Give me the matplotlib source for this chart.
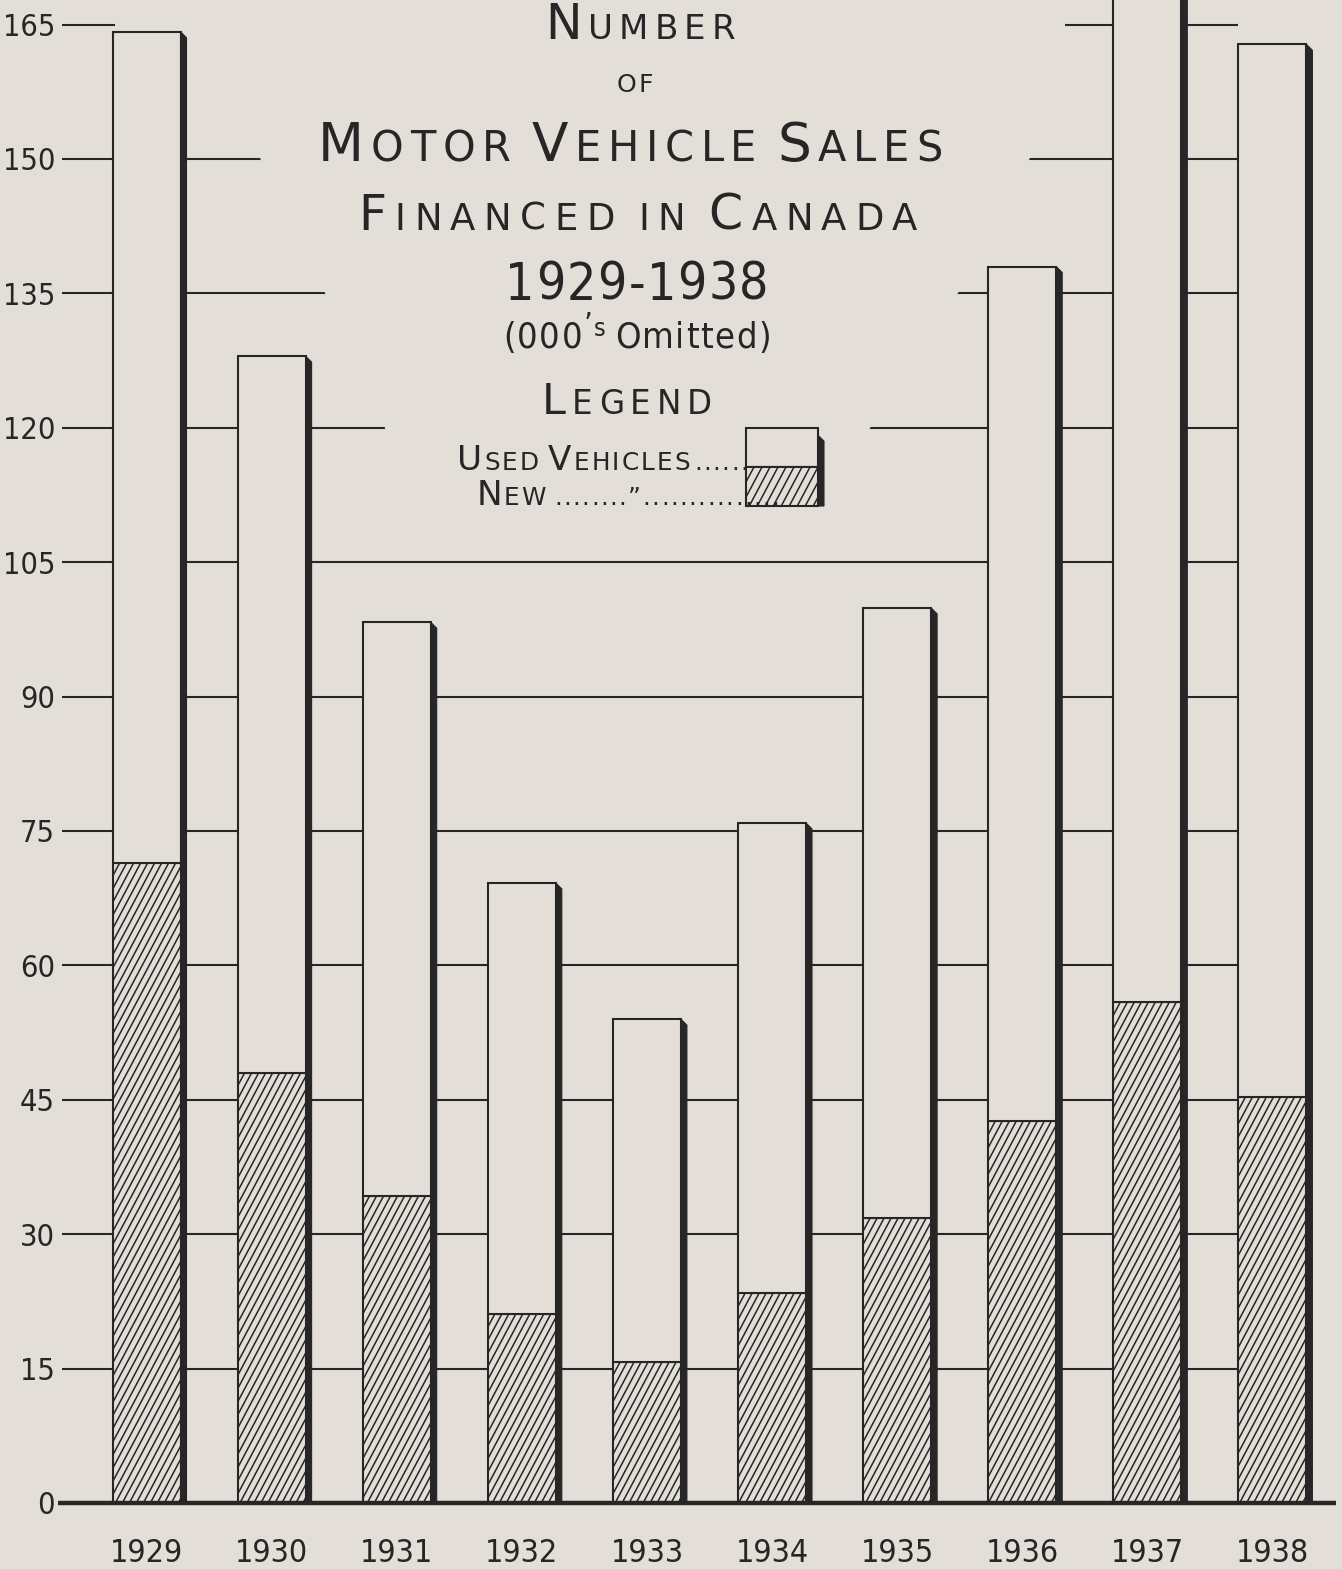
import matplotlib
matplotlib.use("Agg")
import matplotlib.pyplot as plt
from matplotlib.patches import Polygon, Rectangle
from matplotlib.collections import LineCollection
from matplotlib.transforms import IdentityTransform
from matplotlib import font_manager
from matplotlib.font_manager import FontProperties
import numpy as np

# values in thousands of vehicles
years = ["1929", "1930", "1931", "1932", "1933", "1934", "1935", "1936", "1937", "1938"]
new_vehicles = [71.4, 48.0, 34.3, 21.1, 15.7, 23.4, 31.8, 42.6, 55.9, 45.3]
used_vehicles = [92.8, 80.0, 64.0, 48.1, 38.3, 52.5, 68.1, 95.4, 119.1, 117.5]
y_ticks = [0, 15, 30, 45, 60, 75, 90, 105, 120, 135, 150, 165]

PAPER = "#e3dfd8"
INK = "#262626"

W, H = 1342, 1569
X0, PITCH = 146.5, 125.1     # pixel centre of first bar, bar pitch
Y0, UNIT = 1503.0, 8.96      # pixel row of zero, pixels per thousand


def narrow_font():
    # look for a condensed face; plain Liberation Sans otherwise
    for fam, stretch in [("Liberation Sans Narrow", "normal"), ("Liberation Sans Narrow", "condensed"),
                         ("DejaVu Sans", "condensed"), ("Roboto Condensed", "normal"),
                         ("Roboto", "condensed"), ("Open Sans", "condensed")]:
        try:
            path = font_manager.findfont(FontProperties(family=fam, stretch=stretch),
                                         fallback_to_default=False)
        except Exception:
            continue
        if "narrow" in path.lower() or "condensed" in path.lower():
            return FontProperties(fname=path), True
    return FontProperties(family="Liberation Sans"), False


NARROW, IS_NARROW = narrow_font()
TITLE = "DejaVu Sans"
tick_size = 22 if IS_NARROW else 20
year_size = 23 if IS_NARROW else 21


def px(x):
    return (x - X0) / PITCH


def py(y):
    return (Y0 - y) / UNIT


fig = plt.figure(figsize=(W / 100, H / 100), dpi=100, facecolor=PAPER)
ax = fig.add_axes([0, 0, 1, 1])
ax.set_facecolor(PAPER)
ax.set_xlim(px(0), px(W))
ax.set_ylim(py(H), py(0))
ax.axis("off")

x = np.arange(len(years))
new = np.array(new_vehicles)
used = np.array(used_vehicles)
total = new + used
bw = 68 / PITCH
sw, sh = 6 / PITCH, 6 / UNIT

# grid lines, broken around the title block
ax.hlines(y_ticks[1:], px(62), x[-1] - bw / 2, color=INK, lw=1.5, zorder=1)
mask = [(115, -5), (1065, -5), (1065, 30), (1030, 158), (958, 293), (870, 428),
        (860, 480), (392, 480), (385, 428), (325, 293), (260, 158), (115, 30)]
ax.add_patch(Polygon([(px(a), py(b)) for a, b in mask], closed=True,
                     facecolor=PAPER, edgecolor="none", zorder=1.5))

bars_new = ax.bar(x, new, width=bw, facecolor=PAPER, edgecolor=INK, lw=1.5, zorder=2)
ax.bar(x, used, bottom=new, width=bw, facecolor=PAPER, edgecolor=INK, lw=1.5, zorder=2)


def shadow(xr, top, bottom=0):
    ax.add_patch(Polygon([(xr, bottom), (xr + sw, bottom), (xr + sw, top - sh), (xr, top)],
                         closed=True, facecolor=INK, edgecolor=INK, lw=0.8, zorder=3))


def hatch(patch, x0, y0, x1, y1, step=7.0, angle=62):
    (a, b), (c, d) = ax.transData.transform([(x0, y0), (x1, y1)])
    k = 1 / np.tan(np.radians(angle))
    h = d - b
    starts = np.arange(a - k * h - step, c + step, step)
    segs = [[(s, b), (s + k * h, d)] for s in starts]
    lc = LineCollection(segs, transform=IdentityTransform(), colors=INK, lw=1.1, zorder=2.2)
    ax.add_collection(lc)
    lc.set_clip_path(patch)


for i in x:
    shadow(i + bw / 2, total[i])
    hatch(bars_new.patches[i], i - bw / 2, 0, i + bw / 2, new[i])

# baseline
ax.hlines(0, px(58), px(1336), color=INK, lw=3.2, zorder=4)

# tick labels
for t in y_ticks:
    ax.text(px(55), t - 11.5 / UNIT, str(t), ha="right", va="baseline",
            fontproperties=NARROW, fontsize=tick_size, color=INK)
for i, yr in enumerate(years):
    ax.text(i, py(1562), yr, ha="center", va="baseline", fontproperties=NARROW,
            fontsize=year_size, color=INK)

# legend swatch
lx0, lx1 = px(746), px(818)
ly_top, ly_mid, ly_bot = py(428), py(467), py(506)
ax.add_patch(Rectangle((lx0, ly_mid), lx1 - lx0, ly_top - ly_mid, facecolor=PAPER,
                       edgecolor=INK, lw=1.5, zorder=2))
sw_patch = Rectangle((lx0, ly_bot), lx1 - lx0, ly_mid - ly_bot, facecolor=PAPER,
                     edgecolor=INK, lw=1.5, zorder=2)
ax.add_patch(sw_patch)
shadow(lx1, ly_top - 0.8, ly_bot)
hatch(sw_patch, lx0, ly_bot, lx1, ly_mid, step=8.0)

# title block text, placed glyph by glyph to fit the original spans
renderer = fig.canvas.get_renderer()


def fit_line(parts, left, right, base, fprops=None):
    items = []
    for s, size, rise in parts:
        for ch in s:
            if ch == " ":
                items.append((None, size * 0.25, 0))
                continue
            if fprops is None:
                t = fig.text(0, 0, ch, fontsize=size, family=TITLE, color=INK,
                             transform=IdentityTransform(), ha="left", va="baseline", zorder=5)
            else:
                t = fig.text(0, 0, ch, fontproperties=fprops, fontsize=size, color=INK,
                             transform=IdentityTransform(), ha="left", va="baseline", zorder=5)
            items.append((t, t.get_window_extent(renderer).width, rise))
    total_w = sum(w for _, w, _ in items)
    gap = (right - left - total_w) / max(len(items) - 1, 1)
    gap = max(gap, 1.5)
    pos = left
    for t, w, rise in items:
        if t is not None:
            t.set_position((pos, H - base + rise))
        pos += w + gap


def small_caps(text, big, small, grow=1.08):
    big, small = big * grow, small * grow
    parts = []
    for j, word in enumerate(text.split(" ")):
        if j:
            parts.append((" ", small, 0))
        if word[0].isupper():
            parts.append((word[0], big, 0))
            if len(word) > 1:
                parts.append((word[1:].upper(), small, 0))
        else:
            parts.append((word.upper(), small, 0))
    return parts


fit_line(small_caps("Number", 32.6, 22.7), 545, 735, 39)
fit_line(small_caps("of", 32.6, 15.8, 1.15), 617, 653, 92)
fit_line(small_caps("Motor Vehicle Sales", 35.5, 27.7), 318, 942, 161)
fit_line(small_caps("Financed in Canada", 32.6, 24.7), 358, 917, 230)
fit_line([("1929-1938", 37, 0)], 505, 765, 300, fprops=NARROW)
fit_line([("(000", 26, 0), ("\u2019", 22, 14), ("s", 18, 12), (" ", 26, 0), ("Omitted)", 26, 0)],
         503, 765, 348, fprops=NARROW)
fit_line(small_caps("Legend", 28.6, 21.7), 542, 712, 414)
fit_line(small_caps("Used Vehicles", 24.7, 17.8, 1.0), 457, 690, 470)
fit_line([("......", 17.8, 0)], 694, 742, 470)
fit_line(small_caps("New", 24.7, 17.8, 1.0), 477, 543, 505)
fit_line([("........\u201d...............", 17.8, 0)], 554, 742, 505)

fig.savefig("out.png", dpi=100, facecolor=PAPER)
